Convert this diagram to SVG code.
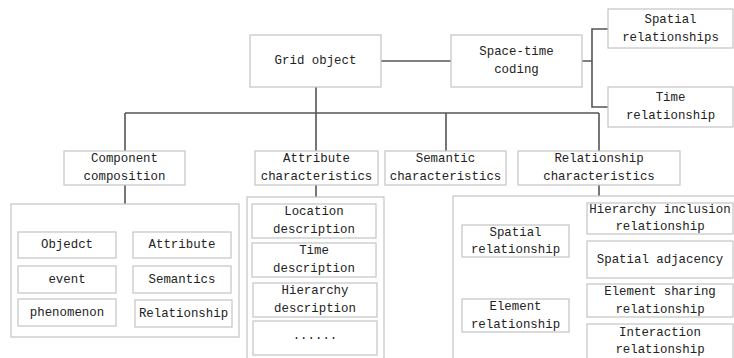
<svg xmlns="http://www.w3.org/2000/svg" width="734" height="358" viewBox="0 0 734 358">
<style>
  .box { fill: #ffffff; stroke: #c4c4c4; stroke-width: 1.2; }
  .con { fill: none; stroke: #555555; stroke-width: 1.6; }
  text { font-family: "Liberation Mono", "DejaVu Sans Mono", monospace; font-size: 12.4px; fill: #222222; text-anchor: middle; dominant-baseline: central; }
</style>
<rect x="0" y="0" width="734" height="358" fill="#ffffff"/>

<g id="connectors">
  <path class="con" d="M316,87 V113 M125,113 H599 M125,113 V151 M316,113 V151 M446,113 V151 M599,113 V151"/>
  <path class="con" d="M381,61 H451"/>
  <path class="con" d="M582,61 H592 M608,29 H592 V107 H608"/>
  <path class="con" d="M125,185 V204"/>
  <path class="con" d="M316,185 V197"/>
  <path class="con" d="M599,185 V196"/>
  <path class="con" d="M569,241 H577 M587,219 H577 V259 H587"/>
  <path class="con" d="M569,316 H577 M587,302 H577 V342 H587"/>
</g>

<g id="grid-object"><rect class="box" x="250" y="35" width="131" height="52"/><text x="315.5" y="61">Grid object</text></g>
<g id="space-time-coding"><rect class="box" x="451" y="35" width="131" height="52"/><text x="516.5" y="52">Space-time</text><text x="516.5" y="70">coding</text></g>
<g id="spatial-relationships"><rect class="box" x="608" y="9" width="125" height="39"/><text x="670.5" y="20">Spatial</text><text x="670.5" y="38">relationships</text></g>
<g id="time-relationship"><rect class="box" x="608" y="87" width="125" height="40"/><text x="670.5" y="98">Time</text><text x="670.5" y="116">relationship</text></g>

<g id="component-composition"><rect class="box" x="64" y="151" width="121" height="34"/><text x="124.5" y="159">Component</text><text x="124.5" y="177">composition</text></g>
<g id="attribute-characteristics"><rect class="box" x="255" y="151" width="123" height="34"/><text x="316.5" y="159">Attribute</text><text x="316.5" y="177">characteristics</text></g>
<g id="semantic-characteristics"><rect class="box" x="385" y="151" width="121" height="34"/><text x="445.5" y="159">Semantic</text><text x="445.5" y="177">characteristics</text></g>
<g id="relationship-characteristics"><rect class="box" x="518" y="151" width="162" height="34"/><text x="599" y="159">Relationship</text><text x="599" y="177">characteristics</text></g>

<g id="component-container">
  <rect class="box" x="11" y="204" width="228" height="133"/>
  <g id="objedct"><rect class="box" x="18" y="232" width="98" height="26"/><text x="67" y="245">Objedct</text></g>
  <g id="attribute"><rect class="box" x="133" y="232" width="98" height="26"/><text x="182" y="245">Attribute</text></g>
  <g id="event"><rect class="box" x="18" y="266" width="98" height="27"/><text x="67" y="279.5">event</text></g>
  <g id="semantics"><rect class="box" x="133" y="266" width="98" height="27"/><text x="182" y="279.5">Semantics</text></g>
  <g id="phenomenon"><rect class="box" x="18" y="299" width="98" height="27"/><text x="67" y="312.5">phenomenon</text></g>
  <g id="relationship"><rect class="box" x="135" y="300" width="97" height="27"/><text x="183.5" y="313.5">Relationship</text></g>
</g>

<g id="attribute-container">
  <rect class="box" x="247" y="197" width="137" height="170"/>
  <g id="location-description"><rect class="box" x="252" y="204" width="124" height="34"/><text x="314" y="212">Location</text><text x="314" y="230">description</text></g>
  <g id="time-description"><rect class="box" x="252" y="243" width="124" height="34"/><text x="314" y="251">Time</text><text x="314" y="269">description</text></g>
  <g id="hierarchy-description"><rect class="box" x="253" y="283" width="124" height="34"/><text x="315" y="291">Hierarchy</text><text x="315" y="309">description</text></g>
  <g id="ellipsis"><rect class="box" x="253" y="321" width="124" height="34"/><text x="315" y="336">......</text></g>
</g>

<g id="relationship-container">
  <rect class="box" x="453" y="196" width="290" height="170"/>
  <g id="spatial-relationship"><rect class="box" x="462" y="225" width="107" height="32"/><text x="515.5" y="233">Spatial</text><text x="515.5" y="250">relationship</text></g>
  <g id="hierarchy-inclusion"><rect class="box" x="587" y="203" width="146" height="31"/><text x="660" y="210">Hierarchy inclusion</text><text x="660" y="227">relationship</text></g>
  <g id="spatial-adjacency"><rect class="box" x="587" y="241" width="146" height="37"/><text x="660" y="260">Spatial adjacency</text></g>
  <g id="element-relationship"><rect class="box" x="462" y="299" width="107" height="33"/><text x="515.5" y="307">Element</text><text x="515.5" y="325">relationship</text></g>
  <g id="element-sharing"><rect class="box" x="587" y="284" width="146" height="33"/><text x="660" y="292">Element sharing</text><text x="660" y="310">relationship</text></g>
  <g id="interaction-relationship"><rect class="box" x="587" y="324" width="146" height="40"/><text x="660" y="333">Interaction</text><text x="660" y="350">relationship</text></g>
</g>
</svg>
